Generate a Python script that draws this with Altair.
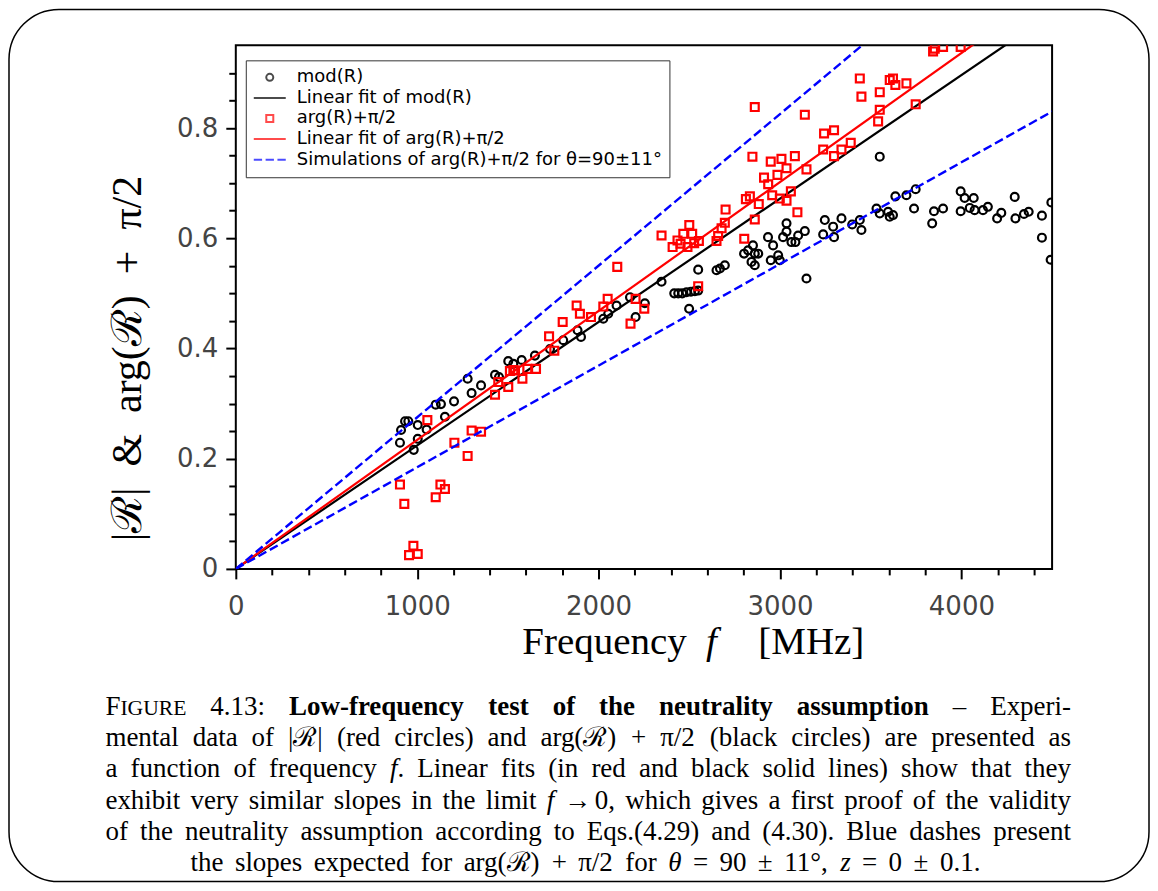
import altair as alt
import pandas as pd

# ---------------- data ----------------
mod_freq = [905, 911, 933, 951, 981, 1003, 1003, 1052, 1102, 1131,
            1153, 1203, 1278, 1300, 1352, 1429, 1451, 1502, 1530, 1576,
            1649, 1732, 1805, 1884, 1903, 2026, 2053, 2099, 2173, 2204,
            2255, 2347, 2417, 2439, 2461, 2485, 2509, 2531, 2549, 2499,
            2549, 2650, 2669, 2696, 2802, 2824, 2851, 2861, 2880, 2843,
            2861, 2934, 2962, 2949, 2990, 2999, 3036, 3036, 3017, 3063,
            3085, 3100, 3137, 3146, 3247, 3293, 3339, 3238, 3298, 3398,
            3440, 3449, 3550, 3532, 3550, 3596, 3605, 3623, 3636, 3697,
            3739, 3748, 3839, 3849, 3899, 3996, 4018, 4068, 4046, 3996,
            4073, 4119, 4146, 4197, 4220, 4294, 4298, 4345, 4371, 4444,
            4444, 4496, 4492]
mod_val = [0.229, 0.252, 0.268, 0.268, 0.216, 0.261, 0.236, 0.253, 0.298, 0.299,
           0.276, 0.304, 0.345, 0.319, 0.333, 0.352, 0.348, 0.377, 0.372, 0.379,
           0.387, 0.399, 0.415, 0.433, 0.421, 0.454, 0.463, 0.478, 0.493, 0.457,
           0.482, 0.521, 0.500, 0.500, 0.500, 0.502, 0.503, 0.504, 0.505, 0.472,
           0.543, 0.542, 0.545, 0.551, 0.572, 0.578, 0.587, 0.572, 0.572, 0.557,
           0.551, 0.602, 0.587, 0.560, 0.569, 0.560, 0.627, 0.612, 0.602, 0.593,
           0.593, 0.605, 0.613, 0.527, 0.633, 0.621, 0.636, 0.607, 0.602, 0.625,
           0.633, 0.615, 0.748, 0.654, 0.645, 0.648, 0.639, 0.642, 0.676, 0.678,
           0.654, 0.689, 0.627, 0.649, 0.654, 0.685, 0.673, 0.673, 0.655, 0.649,
           0.651, 0.651, 0.657, 0.636, 0.646, 0.675, 0.636, 0.644, 0.648, 0.641,
           0.601, 0.665, 0.561]

arg_freq = [905, 929, 955, 979, 1003, 1056, 1102, 1128, 1153, 1205,
            1278, 1300, 1352, 1429, 1447, 1502, 1511, 1530, 1539, 1580,
            1607, 1655, 1727, 1756, 1802, 1879, 1897, 1958, 2026, 2050,
            2103, 2176, 2204, 2252, 2347, 2408, 2435, 2452, 2467, 2490,
            2500, 2516, 2527, 2553, 2549, 2650, 2659, 2678, 2696, 2700,
            2861, 3137, 3243, 3298, 3238, 3298, 3339, 3390, 2848, 2949,
            3008, 3036, 3082, 3146, 2912, 2986, 2935, 2957, 2999, 3036,
            3060, 3096, 2812, 2834, 2883, 2861, 2803, 3844, 3853, 3899,
            3996, 3440, 3449, 3550, 3605, 3623, 3636, 3697, 3550, 3541,
            3748]
arg_val = [0.153, 0.118, 0.025, 0.042, 0.027, 0.270, 0.130, 0.153, 0.145, 0.229,
           0.205, 0.251, 0.249, 0.316, 0.339, 0.330, 0.359, 0.361, 0.360, 0.345,
           0.363, 0.363, 0.422, 0.396, 0.448, 0.478, 0.463, 0.457, 0.476, 0.490,
           0.548, 0.445, 0.490, 0.472, 0.605, 0.584, 0.596, 0.590, 0.608, 0.584,
           0.624, 0.608, 0.591, 0.595, 0.513, 0.595, 0.604, 0.618, 0.628, 0.652,
           0.838, 0.824, 0.790, 0.796, 0.761, 0.749, 0.761, 0.773, 0.748, 0.739,
           0.744, 0.727, 0.749, 0.725, 0.710, 0.715, 0.698, 0.678, 0.672, 0.668,
           0.685, 0.647, 0.671, 0.676, 0.662, 0.634, 0.599, 0.939, 0.944, 0.947,
           0.947, 0.890, 0.857, 0.865, 0.887, 0.890, 0.878, 0.881, 0.833, 0.812,
           0.843]

# straight lines through the origin: end values read at f = 4500 MHz
line_freq = [0, 4500]
fit_mod_val = [0, 1.008]
fit_arg_val = [0, 1.053]
sim_high_val = [0, 1.238]
sim_low_val = [0, 0.830]

legend_labels = ["mod(R)", "Linear fit of mod(R)", "arg(R)+π/2",
                 "Linear fit of arg(R)+π/2",
                 "Simulations of arg(R)+π/2 for θ=90±11°"]
legend_colors = ["#000000", "#000000", "#ff0000", "#ff0000", "#0000ff"]

x_tick_values = list(range(0, 4401, 200))
y_tick_values = [round(0.05 * i, 2) for i in range(19)]

GAP = "\u2002"
y_title = f"|ℛ|{GAP}&{GAP}arg(ℛ){GAP}+{GAP}π/2"
x_title_words = ["Frequency", "f", "[MHz]"]
caption_lines = [
    "F^igure^ 4.13: **Low-frequency test of the neutrality assumption** – Experi-",
    "mental data of |ℛ| (red circles) and arg(ℛ) + π/2 (black circles) are presented as",
    "a function of frequency _f_. Linear fits (in red and black solid lines) show that they",
    "exhibit very similar slopes in the limit _f_ → 0, which gives a first proof of the validity",
    "of the neutrality assumption according to Eqs.(4.29) and (4.30). Blue dashes present",
    "the slopes expected for arg(ℛ) + π/2 for _θ_ = 90 ± 11°, _z_ = 0 ± 0.1.",
]

# ---------------- layout constants ----------------
W, H = 817, 524          # plot area
OX, OY = 235, 44         # page position of plot origin
SERIF = "Liberation Serif"
SANS = "DejaVu Sans"

# legend symbol paths (unit = 16 px at size 1024)
legend_shapes = [
    "M0.22,0A0.22,0.22,0,1,1,-0.22,0A0.22,0.22,0,1,1,0.22,0Z",
    "M-1,0L1,0",
    "M-0.22,-0.22L0.22,-0.22L0.22,0.22L-0.22,0.22Z",
    "M-1,0L1,0",
    "M-1,0L-0.48,0M-0.26,0L0.26,0M0.48,0L1,0",
]

# ---------------- caption word layout (Times metrics) ----------------
TW = {' ': .25, '(': .333, ')': .333, '+': .564, ',': .25, '-': .333, '.': .25,
      '/': .278, ':': .278, '=': .564, '|': .2, '&': .778, '[': .333, ']': .333,
      '–': .5, '±': .564, '°': .4, 'π': .55, 'θ': .5, '→': .75, 'ℛ': .9}
for c in "0123456789":
    TW[c] = .5
TW.update(dict(zip("ABCDEFGHIJKLMNOPQRSTUVWXYZ",
                   [.722, .667, .667, .722, .611, .556, .722, .722, .333, .389, .722, .611, .889,
                    .722, .722, .556, .722, .667, .556, .611, .722, .722, .944, .722, .722, .611])))
TW.update(dict(zip("abcdefghijklmnopqrstuvwxyz",
                   [.444, .5, .444, .5, .444, .333, .5, .5, .278, .278, .5, .278, .778,
                    .5, .5, .5, .5, .333, .389, .278, .5, .5, .722, .5, .5, .444])))
TB = dict(TW)
TB.update(dict(zip("abcdefghijklmnopqrstuvwxyz",
                   [.5, .556, .444, .556, .444, .333, .5, .556, .278, .333, .556, .278, .833,
                    .556, .5, .556, .556, .444, .389, .333, .556, .5, .722, .5, .5, .444])))
TB['L'] = .667
TI = dict(TW)
TI.update({'f': .278, 'z': .389, 'θ': .5})


def parse(line):
    words, cur, buf, style = [], [], "", "n"
    i = 0
    while i < len(line):
        if line.startswith("**", i):
            if buf:
                cur.append((buf, style)); buf = ""
            style = "n" if style == "b" else "b"
            i += 2
            continue
        c = line[i]
        if c in "_^":
            if buf:
                cur.append((buf, style)); buf = ""
            tgt = "i" if c == "_" else "s"
            style = "n" if style == tgt else tgt
        elif c == " ":
            if buf:
                cur.append((buf, style)); buf = ""
            if cur:
                words.append(cur); cur = []
        else:
            buf += c
        i += 1
    if buf:
        cur.append((buf, style))
    if cur:
        words.append(cur)
    return words


def seg_w(text, style, size):
    if style == "s":
        return sum(TW.get(c, .6) for c in text.upper()) * size * 0.8
    tab = TB if style == "b" else (TI if style == "i" else TW)
    return sum(tab.get(c, .5) for c in text) * size


CAP_SIZE = 27
CAP_L, CAP_R = 104.5, 1071.0
CAP_BASE = [714.0, 745.3, 776.6, 807.9, 839.2, 870.5]
CAP_CENTER = 585.0

rows = []
for li, line in enumerate(caption_lines):
    words = parse(line)
    widths = [sum(seg_w(t, s, CAP_SIZE) for t, s in w) for w in words]
    last = li == len(caption_lines) - 1
    if last:
        gap = 0.42 * CAP_SIZE
        total = sum(widths) + gap * (len(words) - 1)
        x = CAP_CENTER - total / 2
    else:
        gap = (CAP_R - CAP_L - sum(widths)) / (len(words) - 1)
        x = CAP_L
    for w, ww in zip(words, widths):
        xx = x
        for t, s in w:
            size = CAP_SIZE * 0.8 if s == "s" else CAP_SIZE
            rows.append({"x": xx - OX, "y": CAP_BASE[li] - OY,
                         "txt": t.upper() if s == "s" else t,
                         "style": s, "size": size})
            xx += seg_w(t, s, CAP_SIZE)
        x += ww + gap

# x-axis title pieces (centres on the page)
xt_centers = [604, 711, 811]
xt_styles = ["n", "i", "n"]
for t, cx, s in zip(x_title_words, xt_centers, xt_styles):
    rows.append({"x": cx - OX, "y": 653 - OY, "txt": t, "style": "t" + s, "size": 39})
text_df = pd.DataFrame(rows)

# ---------------- scales & axes ----------------
xs = alt.Scale(domain=[0, 4500], nice=False, zero=False)
ys = alt.Scale(domain=[0, 0.95], nice=False, zero=False)

major_x = "datum.value % 1000 == 0"
major_y = "abs(round(datum.value*5) - datum.value*5) < 0.001"

x_axis = alt.Axis(
    values=x_tick_values, title=None, grid=False, domain=False,
    labelExpr=f"{major_x} ? format(datum.value, 'd') : ''",
    tickSize={"condition": {"test": major_x, "value": 10}, "value": 6},
    tickWidth=2, tickColor="black",
    labelFont=SANS, labelFontSize=26, labelColor="#444444", labelPadding=15,
    labelOverlap=False, labelFlush=False, labelBound=False,
)
y_axis = alt.Axis(
    values=y_tick_values, title=y_title, grid=False, domain=False,
    labelExpr=f"{major_y} ? (datum.value == 0 ? '0' : format(datum.value, '.1f')) : ''",
    tickSize={"condition": {"test": major_y, "value": 10}, "value": 7},
    tickWidth=2, tickColor="black",
    labelFont=SANS, labelFontSize=26, labelColor="#444444", labelPadding=8,
    labelOverlap=False, labelFlush=False, labelBound=False,
    titleFont=SERIF, titleFontSize=42, titleFontWeight="normal", titleColor="black",
    titleX=140 - OX, titleY=357 - OY, titleAngle=270, titleAlign="center",
    titleBaseline="alphabetic",
)

X = alt.X("f:Q", scale=xs, axis=x_axis)
Y = alt.Y("v:Q", scale=ys, axis=y_axis)

# ---------------- layers ----------------
frame = alt.Chart(pd.DataFrame({"a": [0]})).mark_rect(
    fill="transparent", stroke="black", strokeWidth=1.5, cornerRadius=50
).encode(x=alt.value(8 - OX), x2=alt.value(1149 - OX),
         y=alt.value(8 - OY), y2=alt.value(881 - OY))

mod_pts = alt.Chart(pd.DataFrame({"f": mod_freq, "v": mod_val})).mark_point(
    shape="circle", filled=False, size=62, strokeWidth=2.2, color="black",
    opacity=1, clip=True).encode(x=X, y=Y)
arg_pts = alt.Chart(pd.DataFrame({"f": arg_freq, "v": arg_val})).mark_point(
    shape="square", filled=False, size=62, strokeWidth=2.2, color="#ff0000",
    opacity=1, clip=True).encode(x=X, y=Y)


def line_layer(vals, color, dash=None, width=2.2):
    kw = dict(color=color, strokeWidth=width, clip=True)
    if dash:
        kw["strokeDash"] = dash
    return alt.Chart(pd.DataFrame({"f": line_freq, "v": vals})).mark_line(**kw).encode(x=X, y=Y)


fit_mod = line_layer(fit_mod_val, "black")
fit_arg = line_layer(fit_arg_val, "#ff0000")
sim_hi = line_layer(sim_high_val, "#0000ff", [9, 4], 2.4)
sim_lo = line_layer(sim_low_val, "#0000ff", [9, 4], 2.4)

leg = alt.Legend(
    orient="none", legendX=10, legendY=15, title=None, padding=7,
    strokeColor="#333333", fillColor="white",
    labelFont=SANS, labelFontSize=18, labelColor="black", labelLimit=700,
    labelOffset=10, symbolSize=1024, symbolStrokeWidth=2,
    symbolFillColor="transparent", symbolOffset=0, clipHeight=20, rowPadding=0.6,
)
legend_df = pd.DataFrame({"series": legend_labels, "f": [None] * 5, "v": [None] * 5})
legend_layer = alt.Chart(legend_df).mark_point(filled=False, size=1024, strokeWidth=2).encode(
    x=X, y=Y,
    color=alt.Color("series:N", scale=alt.Scale(domain=legend_labels, range=legend_colors), legend=leg),
    shape=alt.Shape("series:N", scale=alt.Scale(domain=legend_labels, range=legend_shapes), legend=leg),
)


def text_layer(styles, weight, fstyle, align):
    return alt.Chart(text_df).transform_filter(
        alt.FieldOneOfPredicate(field="style", oneOf=styles)
    ).mark_text(font=SERIF, fontWeight=weight, fontStyle=fstyle, align=align,
                baseline="alphabetic", color="black").encode(
        x=alt.X("x:Q", scale=None), y=alt.Y("y:Q", scale=None),
        text="txt:N", size=alt.Size("size:Q", scale=None),
    )


cap_n = text_layer(["n", "s"], "normal", "normal", "left")
cap_b = text_layer(["b"], "bold", "normal", "left")
cap_i = text_layer(["i"], "normal", "italic", "left")
xt_n = text_layer(["tn"], "normal", "normal", "center")
xt_i = text_layer(["ti"], "normal", "italic", "center")

chart = alt.layer(
    frame, mod_pts, fit_mod, arg_pts, fit_arg, sim_hi, sim_lo, legend_layer,
    cap_n, cap_b, cap_i, xt_n, xt_i,
).properties(width=W, height=H, padding=0).configure_view(
    stroke="black", strokeWidth=2
)

chart.save("out.html", embed_options={"renderer": "svg", "actions": False})
